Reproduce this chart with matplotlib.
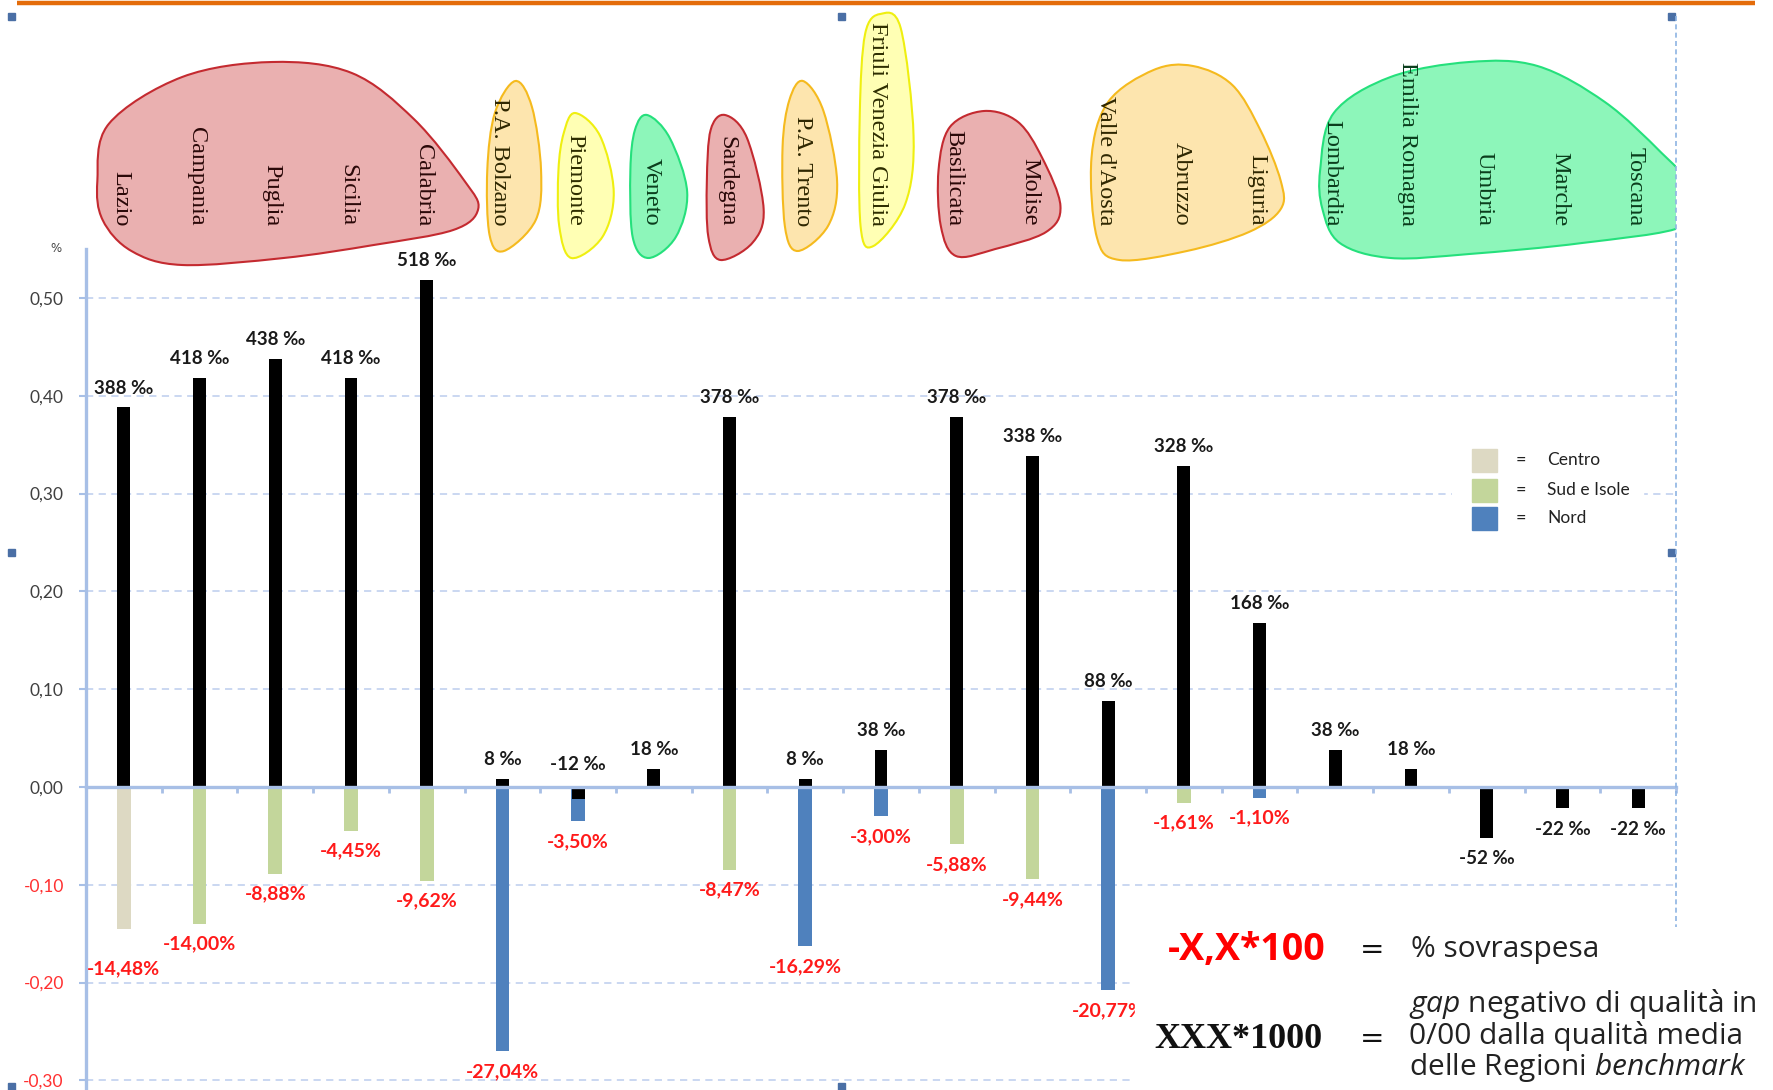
import numpy as np
import matplotlib
matplotlib.use("Agg")
import matplotlib.pyplot as plt
from matplotlib.path import Path
from matplotlib.patches import PathPatch, Rectangle
from matplotlib.transforms import blended_transform_factory

# --- dati ---
regioni = ["Lazio", "Campania", "Puglia", "Sicilia", "Calabria", "P.A. Bolzano",
           "Piemonte", "Veneto", "Sardegna", "P.A. Trento", "Friuli Venezia Giulia",
           "Basilicata", "Molise", "Valle d'Aosta", "Abruzzo", "Liguria",
           "Lombardia", "Emilia Romagna", "Umbria", "Marche", "Toscana"]
# gap di qualita' in per mille
gap_qualita = [388, 418, 438, 418, 518, 8, -12, 18, 378, 8, 38,
               378, 338, 88, 328, 168, 38, 18, -52, -22, -22]
# sovraspesa in percentuale (None = nessuna sovraspesa)
sovraspesa = [-14.48, -14.00, -8.88, -4.45, -9.62, -27.04, -3.50, None, -8.47, -16.29, -3.00,
              -5.88, -9.44, -20.77, -1.61, -1.10, None, None, None, None, None]
area = ["Centro", "Sud e Isole", "Sud e Isole", "Sud e Isole", "Sud e Isole", "Nord",
        "Nord", None, "Sud e Isole", "Nord", "Nord", "Sud e Isole", "Sud e Isole",
        "Nord", "Sud e Isole", "Nord", None, None, None, None, None]
yticks = [-0.30, -0.20, -0.10, 0.00, 0.10, 0.20, 0.30, 0.40, 0.50]

col_area = {"Centro": "#DDD9C3", "Sud e Isole": "#C3D69B", "Nord": "#4F81BD"}
col_blob = {"rosso": ("#EAB0B0", "#C42A30", "#2a0808"),
            "arancio": ("#FDE5AE", "#F5BA1E", "#2e2600"),
            "giallo": ("#FFFFB4", "#EFEF10", "#2e2e00"),
            "verde": ("#8DF6BA", "#25E07C", "#0a3d1c")}

# gruppi di regioni (contorni in unita' di categoria / pixel verticali)
blobs = [
    ("rosso", [(-0.35, 181), (-0.20, 124), (0.77, 77), (1.96, 62), (3.01, 73), (3.83, 119),
               (4.50, 181), (4.68, 209), (4.35, 230), (3.30, 245), (2.11, 258), (0.77, 265),
               (0.10, 251), (-0.28, 220)]),
    ("arancio", [(5.17, 81), (5.39, 107), (5.51, 170), (5.44, 220), (5.02, 251), (4.83, 235),
                 (4.80, 170), (4.90, 113)]),
    ("giallo", [(5.96, 113), (6.29, 136), (6.47, 192), (6.32, 237), (5.91, 258), (5.75, 226),
                (5.74, 170), (5.81, 133)]),
    ("verde", [(6.91, 115), (7.21, 138), (7.44, 192), (7.29, 237), (6.93, 258), (6.72, 237),
               (6.69, 170), (6.75, 130)]),
    ("rosso", [(7.94, 115), (8.23, 138), (8.45, 209), (8.30, 243), (7.88, 260), (7.72, 237),
               (7.70, 181), (7.75, 130)]),
    ("arancio", [(8.97, 81), (9.24, 111), (9.42, 181), (9.30, 226), (8.90, 251), (8.73, 226),
                 (8.70, 147), (8.79, 100)]),
    ("giallo", [(9.99, 14), (10.26, 28), (10.43, 136), (10.32, 204), (9.90, 246), (9.73, 226),
                (9.72, 113), (9.79, 34)]),
    ("rosso", [(10.76, 170), (10.91, 127), (11.36, 111), (11.81, 122), (12.13, 158), (12.37, 206),
               (12.18, 232), (11.51, 249), (10.99, 256), (10.79, 226)]),
    ("arancio", [(12.78, 158), (13.00, 102), (13.60, 70), (14.12, 66), (14.64, 85), (15.01, 130),
                 (15.28, 181), (15.28, 209), (14.86, 232), (14.04, 251), (13.15, 260), (12.85, 237)]),
    ("verde", [(15.80, 170), (15.98, 113), (16.73, 77), (17.77, 62), (18.67, 66), (19.56, 102),
               (20.31, 153), (20.76, 192), (20.61, 226), (19.26, 243), (17.77, 254), (16.73, 258),
               (16.06, 243), (15.83, 209)]),
]
gruppo_di = [0, 0, 0, 0, 0, 1, 2, 3, 4, 5, 6, 7, 7, 8, 8, 8, 9, 9, 9, 9, 9]


def closed_spline(pts):
    # Catmull-Rom chiusa convertita in curve di Bezier
    p = np.array(pts, dtype=float)
    n = len(p)
    verts = [p[0]]
    codes = [Path.MOVETO]
    for i in range(n):
        p0, p1, p2, p3 = p[i - 1], p[i], p[(i + 1) % n], p[(i + 2) % n]
        verts += [p1 + (p2 - p0) / 6, p2 - (p3 - p1) / 6, p2]
        codes += [Path.CURVE4] * 3
    verts.append(p[0])
    codes.append(Path.CLOSEPOLY)
    return Path(verts, codes)


plt.rcParams["mathtext.fontset"] = "custom"
plt.rcParams["mathtext.it"] = "Open Sans:italic"
plt.rcParams["mathtext.rm"] = "Open Sans"

W, H = 1773, 1090
fig = plt.figure(figsize=(W / 100, H / 100), dpi=100)
ax = fig.add_axes([86 / W, 0, (1676 - 86) / W, (H - 249) / H])
ov = fig.add_axes([0, 0, 1, 1], zorder=5)
ov.set_xlim(0, W)
ov.set_ylim(H, 0)
ov.axis("off")
ov.patch.set_alpha(0)

x = np.arange(len(regioni))
blu = "#A7BFE6"

# barre sovraspesa (colorate) e gap di qualita' (nere)
for i, v in enumerate(sovraspesa):
    if v is not None:
        ax.bar(x[i], v / 100, width=0.18, color=col_area[area[i]], zorder=2)
ax.bar(x, np.array(gap_qualita) / 1000, width=0.17, color="black", zorder=3)

ax.set_xlim(-0.5, 20.5)
ax.set_ylim(-0.3098, 0.55)
for s in ["top", "right"]:
    ax.spines[s].set_visible(False)
ax.spines["left"].set_color(blu)
ax.spines["left"].set_linewidth(2.4)
ax.spines["bottom"].set_position(("data", 0))
ax.spines["bottom"].set_color(blu)
ax.spines["bottom"].set_linewidth(2.4)
ax.spines["bottom"].set_zorder(4)
ax.set_xticks(np.arange(-0.5, 20.6, 1))
ax.tick_params(axis="x", length=4, width=2, color=blu, labelbottom=False)
ax.set_yticks(yticks)
ax.set_yticklabels([f"{t:.2f}".replace(".", ",") for t in yticks])
ax.tick_params(axis="y", length=5, width=1.5, color=blu, pad=11, labelsize=12.5)
for t, lab in zip(yticks, ax.get_yticklabels()):
    lab.set_color("#FF3030" if t < 0 else "#404040")
    lab.set_family(["Lato", "DejaVu Sans"])
ax.grid(axis="y", color="#C6D4F0", lw=1.3, ls=(0, (4, 3)))
ax.set_axisbelow(True)
ax.annotate("%", xy=(0, 1), xycoords="axes fraction", xytext=(-22, 0),
            textcoords="offset points", ha="center", va="center", fontsize=8.5, color="#444444")

# etichette valori
fnt = ["Lato", "DejaVu Sans"]
for i, g in enumerate(gap_qualita):
    v = g / 1000
    if g >= 0:
        dy = 14
    elif sovraspesa[i] is not None:
        v, dy = 0, 16
    else:
        dy = -15
    ax.annotate(f"{g} ‰", xy=(x[i], v), xytext=(0, dy), textcoords="offset points",
                ha="center", va="center", fontsize=13.5, fontweight="bold", color="#1a1a1a",
                family=fnt)
for i, s in enumerate(sovraspesa):
    if s is None:
        continue
    dy = -29 if i == 0 else -14.5
    ax.annotate(f"{s:.2f}%".replace(".", ","), xy=(x[i], s / 100), xytext=(0, dy),
                textcoords="offset points", ha="center", va="center", fontsize=14,
                fontweight="bold", color="#FF1A1A", family=fnt)

# gruppi di regioni in alto
tr = blended_transform_factory(ax.transData, ov.transData)
for nome, pts in blobs:
    fc, ec, _ = col_blob[nome]
    patch = PathPatch(closed_spline(pts), fc=fc, ec=ec, lw=1.5, transform=tr)
    ov.add_patch(patch)
    clip = Rectangle((-2, 0), 22.5, 400, transform=tr, visible=False)
    ov.add_patch(clip)
    patch.set_clip_path(clip)
for i, r in enumerate(regioni):
    tc = col_blob[blobs[gruppo_di[i]][0]][2]
    ov.text(x[i] - 0.04, 226, r, transform=tr, rotation=270, ha="center", va="bottom",
            fontsize=17.5, family="Liberation Serif", color=tc, zorder=6)

# cornice di selezione
ov.plot([1676, 1676], [16, 927], color="#8EB4E3", lw=1.2, ls=(0, (3, 2)))
ov.plot([17, 1755], [3, 3], color="#E46C0A", lw=3.2, solid_capstyle="butt")
for hx, hy in [(11, 16), (841, 16), (1671, 16), (11, 552), (1671, 552), (841, 1086), (11, 1086)]:
    ov.add_patch(Rectangle((hx - 3.5, hy - 3.5), 7, 7, color="#4A6FA5"))

# legenda
ov.add_patch(Rectangle((1452, 440), 191, 100, color="white", zorder=1))
for nome, yy in zip(["Centro", "Sud e Isole", "Nord"], [460, 490, 518]):
    ov.add_patch(Rectangle((1472, yy - 11.5), 25, 23, color=col_area[nome], zorder=2))
    ov.text(1521, yy, "=", ha="center", va="center", fontsize=13, color="#222222", family=fnt)
    ov.text(1547, yy, nome, ha="left", va="center", fontsize=12.5, color="#222222", family=fnt)

# nota esplicativa
ov.add_patch(Rectangle((1135, 927), W - 1135, H - 927, color="white", zorder=1))
ov.text(1247, 950, "-X,X*100", ha="center", va="center", fontsize=27, fontweight="bold",
        color="#FF0000", family=["Open Sans", "DejaVu Sans"], zorder=3)
ov.text(1238, 1039, "XXX*1000", ha="center", va="center", fontsize=26, fontweight="bold",
        color="#111111", family="Liberation Serif", zorder=3)
for yy in [950, 1039]:
    ov.text(1372, yy, "=", ha="center", va="center", fontsize=21, color="#111111", zorder=3)
ov.text(1411, 950, "% sovraspesa", ha="left", va="center", fontsize=21.5, color="#222222",
        family="Open Sans", zorder=3)
for yy, riga in zip([1004, 1036, 1068], [r"$\mathit{gap}$ negativo di qualità in",
                                         "0/00 dalla qualità media",
                                         r"delle Regioni $\mathit{benchmark}$"]):
    ov.text(1409, yy, riga, ha="left", va="center", fontsize=21.5, color="#222222",
            family="Open Sans", zorder=3)

fig.savefig("out.png", dpi=100)
